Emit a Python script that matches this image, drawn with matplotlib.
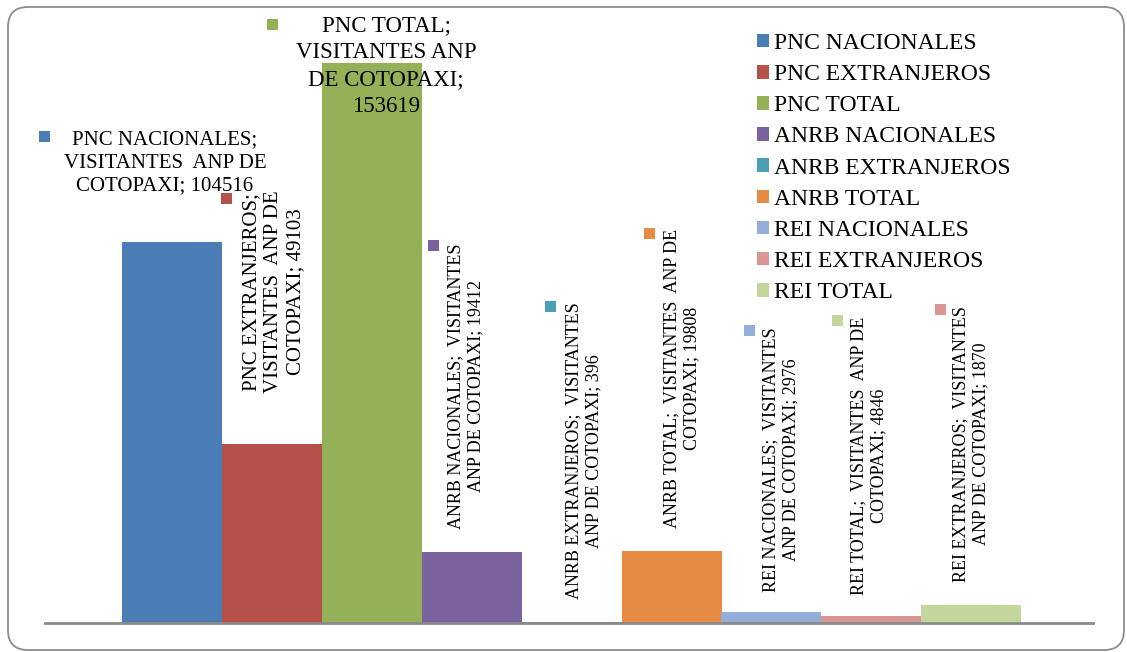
import matplotlib
matplotlib.use("Agg")
import matplotlib.pyplot as plt
from matplotlib.patches import FancyBboxPatch, Rectangle
from matplotlib import transforms

plt.rcParams["font.family"] = ["Liberation Serif", "DejaVu Serif"]

# data
category = "VISITANTES  ANP DE COTOPAXI"
series = ["PNC NACIONALES", "PNC EXTRANJEROS", "PNC TOTAL",
          "ANRB NACIONALES", "ANRB EXTRANJEROS", "ANRB TOTAL",
          "REI NACIONALES", "REI EXTRANJEROS", "REI TOTAL"]
values = [104516, 49103, 153619, 19412, 396, 19808, 2976, 1870, 4846]
colors = ["#4A7DB5", "#B5504B", "#95B157", "#7A629E", "#4B9FB5",
          "#E68B44", "#94AEDA", "#D99694", "#C3D69B"]

# how each data label wraps
wraps = [
    "{s};\nVISITANTES  ANP DE\nCOTOPAXI; {v}",
    "{s};\nVISITANTES  ANP DE\nCOTOPAXI; {v}",
    "{s};\nVISITANTES ANP\nDE COTOPAXI;\n{v}",
    "{s};  VISITANTES\nANP DE COTOPAXI; {v}",
    "{s};  VISITANTES\nANP DE COTOPAXI; {v}",
    "{s};  VISITANTES  ANP DE\nCOTOPAXI; {v}",
    "{s};  VISITANTES\nANP DE COTOPAXI; {v}",
    "{s};  VISITANTES\nANP DE COTOPAXI; {v}",
    "{s};  VISITANTES  ANP DE\nCOTOPAXI; {v}",
]
# label placement in pixels from the top-left: text centre, rotation, size, key square
label_xy = [(165, 163), (274, 292), (386, 66), (466, 386), (584, 451),
            (682, 378), (781, 460), (971, 444), (869, 456)]
label_rot = [0, 90, 0, 90, 90, 90, 90, 90, 90]
label_size = [15, 15, 16.5, 13, 13, 13, 13, 13, 13]
label_spacing = [1.28, 1.2, 1.38, 1.27, 1.27, 1.27, 1.27, 1.27, 1.27]
key_xy = [(44.5, 136.5), (226.5, 198.5), (272, 24), (433, 245), (550, 306),
          (649, 233), (749, 330), (940, 309), (837, 320)]

W, H = 1127, 652
fig = plt.figure(figsize=(W / 100, H / 100), dpi=100)
px = transforms.Affine2D().scale(1 / W, -1 / H).translate(0, 1) + fig.transFigure

ax = fig.add_axes([45 / W, (H - 623) / H, (1093 - 45) / W, (623 - 10) / H])
for i, (s, v, c) in enumerate(zip(series, values, colors)):
    ax.bar(i, v, width=1.0, color=c, label=s, edgecolor="none")

ax.set_xlim(-1.265, 9.215)
ax.set_ylim(0, 153619 * 613 / 560)
for side in ["left", "right", "top"]:
    ax.spines[side].set_visible(False)
ax.spines["bottom"].set_color("#8a8a8a")
ax.spines["bottom"].set_linewidth(2)
ax.set_xticks([])
ax.set_yticks([])

# data labels with their colour keys
for i in range(len(series)):
    txt = wraps[i].format(s=series[i], v=values[i])
    fig.text(label_xy[i][0], label_xy[i][1], txt, transform=px,
             ha="center", va="center", multialignment="center",
             rotation=label_rot[i], fontsize=label_size[i],
             linespacing=label_spacing[i], color="black")
    kx, ky = key_xy[i]
    fig.patches.append(Rectangle((kx - 5.5, ky - 5.5), 11, 11, transform=px,
                                 facecolor=colors[i], edgecolor="none"))

fig.legend(loc="upper left", bbox_to_anchor=(757 / W, 1 - 33 / H),
           bbox_transform=fig.transFigure, frameon=False, fontsize=17,
           handlelength=0.5, handleheight=0.5, handletextpad=0.2,
           labelspacing=0.43, borderpad=0, borderaxespad=0)

# rounded chart border
border = FancyBboxPatch((0.08 + 0.2, 0.02 + 0.2), 11.16 - 0.4, 6.43 - 0.4,
                        boxstyle="round,pad=0.2", transform=fig.dpi_scale_trans,
                        facecolor="none", edgecolor="#8c8c8c", linewidth=1.3)
fig.patches.append(border)

fig.savefig("out.png", dpi=100)
